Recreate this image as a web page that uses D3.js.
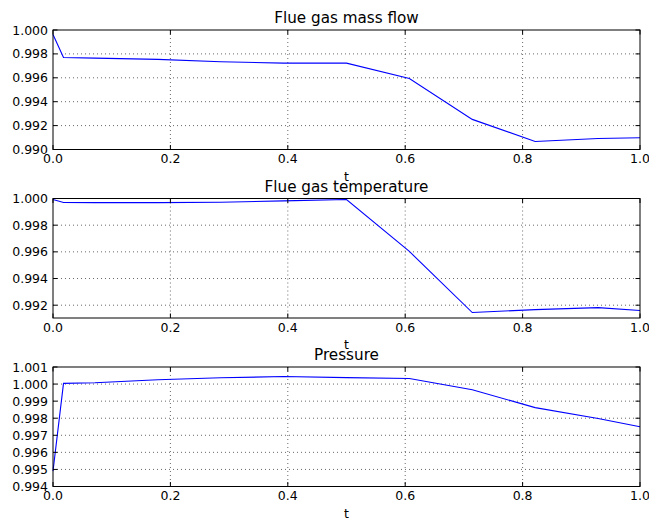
<!DOCTYPE html>
<html><head><meta charset="utf-8">
<script src="https://cdn.jsdelivr.net/npm/d3@7"></script>
<style>
body{margin:0;background:#fff;}
text{font-family:"DejaVu Sans",sans-serif;fill:#000;}
</style></head>
<body><svg id="c" width="649" height="519"></svg>
<script>
const tValues = [0, 0.0179, 0.0714, 0.1786, 0.2857, 0.3929, 0.5, 0.6071, 0.7143, 0.8214, 0.9286, 1.0];
const massFlow = [0.99962, 0.99770, 0.99765, 0.99754, 0.99734, 0.99723, 0.99723, 0.99594, 0.99252, 0.99067, 0.99092, 0.99098];
const gasTemp = [0.99992, 0.99970, 0.99969, 0.99969, 0.99972, 0.99982, 0.99992, 0.99603, 0.99145, 0.99167, 0.99182, 0.99160];
const pressure = [0.99490, 1.00004, 1.00008, 1.00025, 1.00037, 1.00044, 1.00038, 1.00033, 0.99967, 0.99862, 0.99798, 0.99750];
const titles = ["Flue gas mass flow", "Flue gas temperature", "Pressure"];
const xTicks = [0, 0.2, 0.4, 0.6, 0.8, 1.0];
const yTicks1 = [0.990, 0.992, 0.994, 0.996, 0.998, 1.000];
const yTicks2 = [0.992, 0.994, 0.996, 0.998, 1.000];
const yTicks3 = [0.994, 0.995, 0.996, 0.997, 0.998, 0.999, 1.000, 1.001];
const yDomains = [[0.990, 1.000], [0.99104, 1.000], [0.994, 1.001]];
const xLabel = "t";

const svg = d3.select("#c");
const left = 53, right = 640, h = 119.5;
const tops = [30, 198.5, 367];
const panels = [
  {data: massFlow, ticks: yTicks1},
  {data: gasTemp, ticks: yTicks2},
  {data: pressure, ticks: yTicks3}
];
const tickFont = 12.5, titleFont = 15.2, tl = 4.5;

panels.forEach((p, i) => {
  const top = tops[i], bottom = top + h;
  const x = d3.scaleLinear().domain([0, 1]).range([left, right]);
  const y = d3.scaleLinear().domain(yDomains[i]).range([bottom, top]);
  const g = svg.append("g");
  // grid
  g.selectAll(".gx").data(xTicks.slice(1, -1)).enter().append("line")
    .attr("x1", d => x(d)).attr("x2", d => x(d)).attr("y1", top).attr("y2", bottom)
    .attr("stroke", "#000").attr("stroke-width", 0.6).attr("stroke-dasharray", "1,3");
  g.selectAll(".gy").data(p.ticks.filter(v => y(v) > top + 0.5 && y(v) < bottom - 0.5)).enter().append("line")
    .attr("x1", left).attr("x2", right).attr("y1", d => y(d)).attr("y2", d => y(d))
    .attr("stroke", "#000").attr("stroke-width", 0.6).attr("stroke-dasharray", "1,3");
  // line
  const line = d3.line().x((d, k) => x(tValues[k])).y(d => y(d));
  g.append("path").datum(p.data).attr("d", line).attr("fill", "none")
    .attr("stroke", "#0000ff").attr("stroke-width", 1.1);
  // frame
  g.append("rect").attr("x", left).attr("y", top).attr("width", right - left).attr("height", h)
    .attr("fill", "none").attr("stroke", "#000").attr("stroke-width", 1);
  // ticks inward
  xTicks.forEach(v => {
    g.append("line").attr("x1", x(v)).attr("x2", x(v)).attr("y1", bottom).attr("y2", bottom - tl).attr("stroke", "#000");
    g.append("line").attr("x1", x(v)).attr("x2", x(v)).attr("y1", top).attr("y2", top + tl).attr("stroke", "#000");
  });
  p.ticks.forEach(v => {
    g.append("line").attr("x1", left).attr("x2", left + tl).attr("y1", y(v)).attr("y2", y(v)).attr("stroke", "#000");
    g.append("line").attr("x1", right).attr("x2", right - tl).attr("y1", y(v)).attr("y2", y(v)).attr("stroke", "#000");
  });
  // tick labels
  g.selectAll(".xl").data(xTicks).enter().append("text")
    .attr("x", d => x(d)).attr("y", bottom + 13.5).attr("text-anchor", "middle")
    .attr("font-size", tickFont).text(d => d3.format(".1f")(d));
  g.selectAll(".yl").data(p.ticks).enter().append("text")
    .attr("x", left - 5).attr("y", d => y(d) + 4.5).attr("text-anchor", "end")
    .attr("font-size", tickFont).text(d => d3.format(".3f")(d));
  // x label
  g.append("text").attr("x", (left + right) / 2).attr("y", bottom + 31).attr("text-anchor", "middle")
    .attr("font-size", tickFont).text(xLabel);
  // title
  g.append("text").attr("x", (left + right) / 2).attr("y", top - 7).attr("text-anchor", "middle")
    .attr("font-size", titleFont).text(titles[i]);
});
// bring titles above lower x labels: redraw ordering handled by panel order
</script></body></html>
